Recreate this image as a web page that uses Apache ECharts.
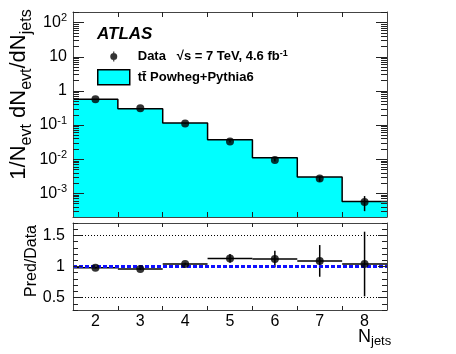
<!DOCTYPE html>
<html><head><meta charset="utf-8">
<script src="https://cdn.jsdelivr.net/npm/echarts@6/dist/echarts.min.js"></script>
<style>html,body{margin:0;padding:0;background:#fff}#c{width:456px;height:354px}</style>
</head><body><div id="c"></div>
<script>
// ---- data ----
const categories = [2, 3, 4, 5, 6, 7, 8];
const binEdges = [1.5, 2.5, 3.5, 4.5, 5.5, 6.5, 7.5, 8.5];
const mcValues = [0.57, 0.30, 0.115, 0.037, 0.011, 0.0030, 0.00058];
const dataValues = [0.57, 0.31, 0.112, 0.033, 0.0095, 0.0027, 0.00056];
const dataLow = [0.565, 0.305, 0.109, 0.031, 0.0085, 0.0022, 0.00030];
const dataHigh = [0.575, 0.315, 0.115, 0.035, 0.0105, 0.0032, 0.00083];
const ratioValues = [0.98, 0.96, 1.04, 1.13, 1.12, 1.09, 1.04];
const ratioErr = [0.01, 0.015, 0.02, 0.07, 0.135, 0.255, 0.52];
const logTickLabels = [-3, -2, -1, 0, 1, 2];
const ratioTickLabels = [0.5, 1, 1.5];
const ratioGuideLines = [0.5, 1.5];
const ratioUnity = 1;

const FONT = "'Liberation Sans', Arial, Helvetica, sans-serif";
const LMIN = -3.694, LMAX = 2.313;
const lg = v => Math.log10(v);

const logMinor = [];
for (let n = -4; n <= 2; n++) for (let k = 2; k <= 9; k++) {
  const v = Math.log10(k * Math.pow(10, n));
  if (v > LMIN && v < LMAX) logMinor.push(v);
}
const ratioMinor = [];
for (let i = 3; i <= 17; i++) ratioMinor.push(i / 10);
const innerEdges = binEdges.slice(1, -1);

const stepData = binEdges.map((e, i) => [e, lg(mcValues[Math.min(i, mcValues.length - 1)])]);
const dataPts = categories.map((c, i) => [c, lg(dataValues[i])]);
const dataErrs = categories.map((c, i) => [c, lg(dataLow[i]), lg(dataHigh[i])]);
const ratioPts = categories.map((c, i) => [c, ratioValues[i]]);
const ratioBars = categories.map((c, i) => [c, ratioValues[i], ratioValues[i] - ratioErr[i], ratioValues[i] + ratioErr[i]]);

const FRAME = '#444';
function xAx(grid, pos, showLabel, tickLen) {
  return {
    type: 'value', gridIndex: grid, position: pos, min: 1.5, max: 8.5, z: 10,
    axisLine: { show: true, onZero: false, lineStyle: { color: FRAME, width: 1 } },
    axisTick: { show: true, inside: true, length: tickLen, customValues: innerEdges, lineStyle: { color: '#222' } },
    axisLabel: showLabel ? { show: true, customValues: categories, fontSize: 16, fontFamily: FONT, color: '#000', margin: 4 } : { show: false },
    splitLine: { show: false }
  };
}
function yAx(grid, pos, min, max, ticks, len, line, label) {
  return {
    type: 'value', gridIndex: grid, position: pos, min: min, max: max, z: 10,
    axisLine: { show: line, onZero: false, lineStyle: { color: FRAME, width: 1 } },
    axisTick: { show: true, inside: true, length: len, customValues: ticks, lineStyle: { color: '#222' } },
    axisLabel: label || { show: false },
    splitLine: { show: false }
  };
}
const logLabel = {
  show: true, customValues: logTickLabels, margin: 6, fontSize: 16, fontFamily: FONT, color: '#000', lineHeight: 20,
  formatter: v => { const r = Math.round(v); return r === 0 ? '1' : r === 1 ? '10' : '10{sup|' + r + '}'; },
  rich: { sup: { fontSize: 11, fontFamily: FONT, color: '#000', verticalAlign: 'top', lineHeight: 12 } }
};
const ratioLabel = {
  show: true, customValues: ratioTickLabels, margin: 8, fontSize: 16, fontFamily: FONT, color: '#000',
  formatter: v => String(Math.round(v * 10) / 10)
};

const yMain = yAx(0, 'left', LMIN, LMAX, logTickLabels, 11, true, logLabel);
yMain.name = '1/N{s|evt} dN{s|evt}/dN{s|jets}';
yMain.nameLocation = 'middle';
yMain.nameGap = 38;
yMain.nameMoveOverlap = false;
yMain.nameTextStyle = { fontSize: 22, fontFamily: FONT, color: '#000', lineHeight: 32, padding: [0, 0, 0, 40],
  rich: { s: { fontSize: 16, fontFamily: FONT, color: '#000', verticalAlign: 'bottom', lineHeight: 16 } } };

const yRatio = yAx(1, 'left', 0.3, 1.7, ratioTickLabels, 9, true, ratioLabel);
yRatio.name = 'Pred/Data';
yRatio.nameLocation = 'middle';
yRatio.nameGap = 32;
yRatio.nameMoveOverlap = false;
yRatio.nameTextStyle = { fontSize: 16, fontFamily: FONT, color: '#000', lineHeight: 18, padding: [0, 0, 0, 11] };

const xBottom = xAx(1, 'bottom', true, 4);
xBottom.name = 'N{s|jets}';
xBottom.nameLocation = 'end';
xBottom.nameGap = -29;
xBottom.nameMoveOverlap = false;
xBottom.nameTextStyle = { fontSize: 18, fontFamily: FONT, color: '#000', lineHeight: 22, padding: [54, 0, 0, 0], verticalAlign: 'middle', align: 'left',
  rich: { s: { fontSize: 13, fontFamily: FONT, color: '#000', verticalAlign: 'bottom', lineHeight: 13 } } };

const option = {
  animation: false,
  backgroundColor: '#fff',
  title: { text: 'ATLAS', left: 97, top: 25, padding: 0,
    textStyle: { fontSize: 17, fontStyle: 'italic', fontWeight: 'bold', fontFamily: FONT, color: '#000', lineHeight: 18 } },
  legend: {
    left: 97, top: 49, orient: 'vertical', padding: 0, itemWidth: 32, itemHeight: 15, itemGap: 5,
    selectedMode: false,
    data: [
      { name: 'Data', icon: 'path://M0,0h0.01v0.01h-0.01z M31.99,14.99h0.01v0.01h-0.01z M15.4,2.5h1.2v10h-1.2z M12.5,7.5a3.5,3.5 0 1,1 7,0a3.5,3.5 0 1,1 -7,0z', itemStyle: { color: '#000' } },
      { name: 'MC', icon: 'rect', itemStyle: { color: '#00ffff', borderColor: '#000', borderWidth: 1.5 } }
    ],
    formatter: n => n === 'Data' ? 'Data   \u221As = 7 TeV, 4.6 fb{sup|-1}' : 't\u0074\u0304 Powheg+Pythia6',
    textStyle: { fontSize: 13, fontWeight: 'bold', fontFamily: FONT, color: '#000', padding: [0, 0, 0, 3], lineHeight: 15,
      rich: { sup: { fontSize: 9, fontWeight: 'bold', fontFamily: FONT, color: '#000', verticalAlign: 'top', lineHeight: 9 } } }
  },
  grid: [
    { left: 73, top: 12, width: 314, height: 205, outerBoundsMode: 'none', containLabel: false },
    { left: 73, top: 223, width: 314, height: 87, outerBoundsMode: 'none', containLabel: false }
  ],
  xAxis: [
    xAx(0, 'bottom', false, 5),
    xAx(0, 'top', false, 5),
    xBottom,
    xAx(1, 'top', false, 4)
  ],
  yAxis: [
    yMain,
    yAx(0, 'left', LMIN, LMAX, logMinor, 6, false),
    yAx(0, 'right', LMIN, LMAX, logTickLabels, 11, true),
    yAx(0, 'right', LMIN, LMAX, logMinor, 6, false),
    yRatio,
    yAx(1, 'left', 0.3, 1.7, ratioMinor, 5, false),
    yAx(1, 'right', 0.3, 1.7, ratioTickLabels, 9, true),
    yAx(1, 'right', 0.3, 1.7, ratioMinor, 5, false)
  ],
  series: [
    { name: 'MC', type: 'line', xAxisIndex: 0, yAxisIndex: 0, step: 'end', data: stepData, symbol: 'none', z: 2,
      lineStyle: { color: '#000', width: 1.5 }, itemStyle: { color: '#00ffff' },
      areaStyle: { color: '#00ffff', opacity: 1, origin: 'start' } },
    { name: 'Data', type: 'scatter', xAxisIndex: 0, yAxisIndex: 0, data: dataPts, symbolSize: 8, z: 5,
      itemStyle: { color: '#000' } },
    { name: 'DataErr', type: 'custom', xAxisIndex: 0, yAxisIndex: 0, data: dataErrs, z: 4,
      renderItem: (p, api) => {
        const a = api.coord([api.value(0), api.value(1)]);
        const b = api.coord([api.value(0), api.value(2)]);
        return { type: 'line', shape: { x1: a[0], y1: a[1], x2: b[0], y2: b[1] }, style: { stroke: '#000', lineWidth: 1.5 } };
      } },
    { name: 'Guides', type: 'line', xAxisIndex: 2, yAxisIndex: 4, data: ratioPts, symbol: 'none', silent: true, z: 1,
      lineStyle: { opacity: 0 },
      markLine: { silent: true, symbol: 'none', label: { show: false },
        data: ratioGuideLines.map(v => ({ yAxis: v, lineStyle: { color: '#000', width: 1, type: [1, 2] } }))
          .concat([{ yAxis: ratioUnity, lineStyle: { color: '#1010ff', width: 3, type: [4, 2] } }]) } },
    { name: 'RatioErr', type: 'custom', xAxisIndex: 2, yAxisIndex: 4, data: ratioBars, z: 4,
      renderItem: (p, api) => {
        const x = api.value(0), r = api.value(1);
        const l = api.coord([x - 0.5, r]), rr = api.coord([x + 0.5, r]);
        const lo = api.coord([x, api.value(2)]), hi = api.coord([x, api.value(3)]);
        return { type: 'group', children: [
          { type: 'line', shape: { x1: l[0], y1: l[1], x2: rr[0], y2: rr[1] }, style: { stroke: '#000', lineWidth: 1.5 } },
          { type: 'line', shape: { x1: lo[0], y1: lo[1], x2: hi[0], y2: hi[1] }, style: { stroke: '#000', lineWidth: 1.5 } }
        ] };
      } },
    { name: 'Ratio', type: 'scatter', xAxisIndex: 2, yAxisIndex: 4, data: ratioPts, symbolSize: 8, z: 5,
      itemStyle: { color: '#000' } }
  ]
};
const chart = echarts.init(document.getElementById('c'), null, { renderer: 'canvas' });
chart.setOption(option);
</script></body></html>
